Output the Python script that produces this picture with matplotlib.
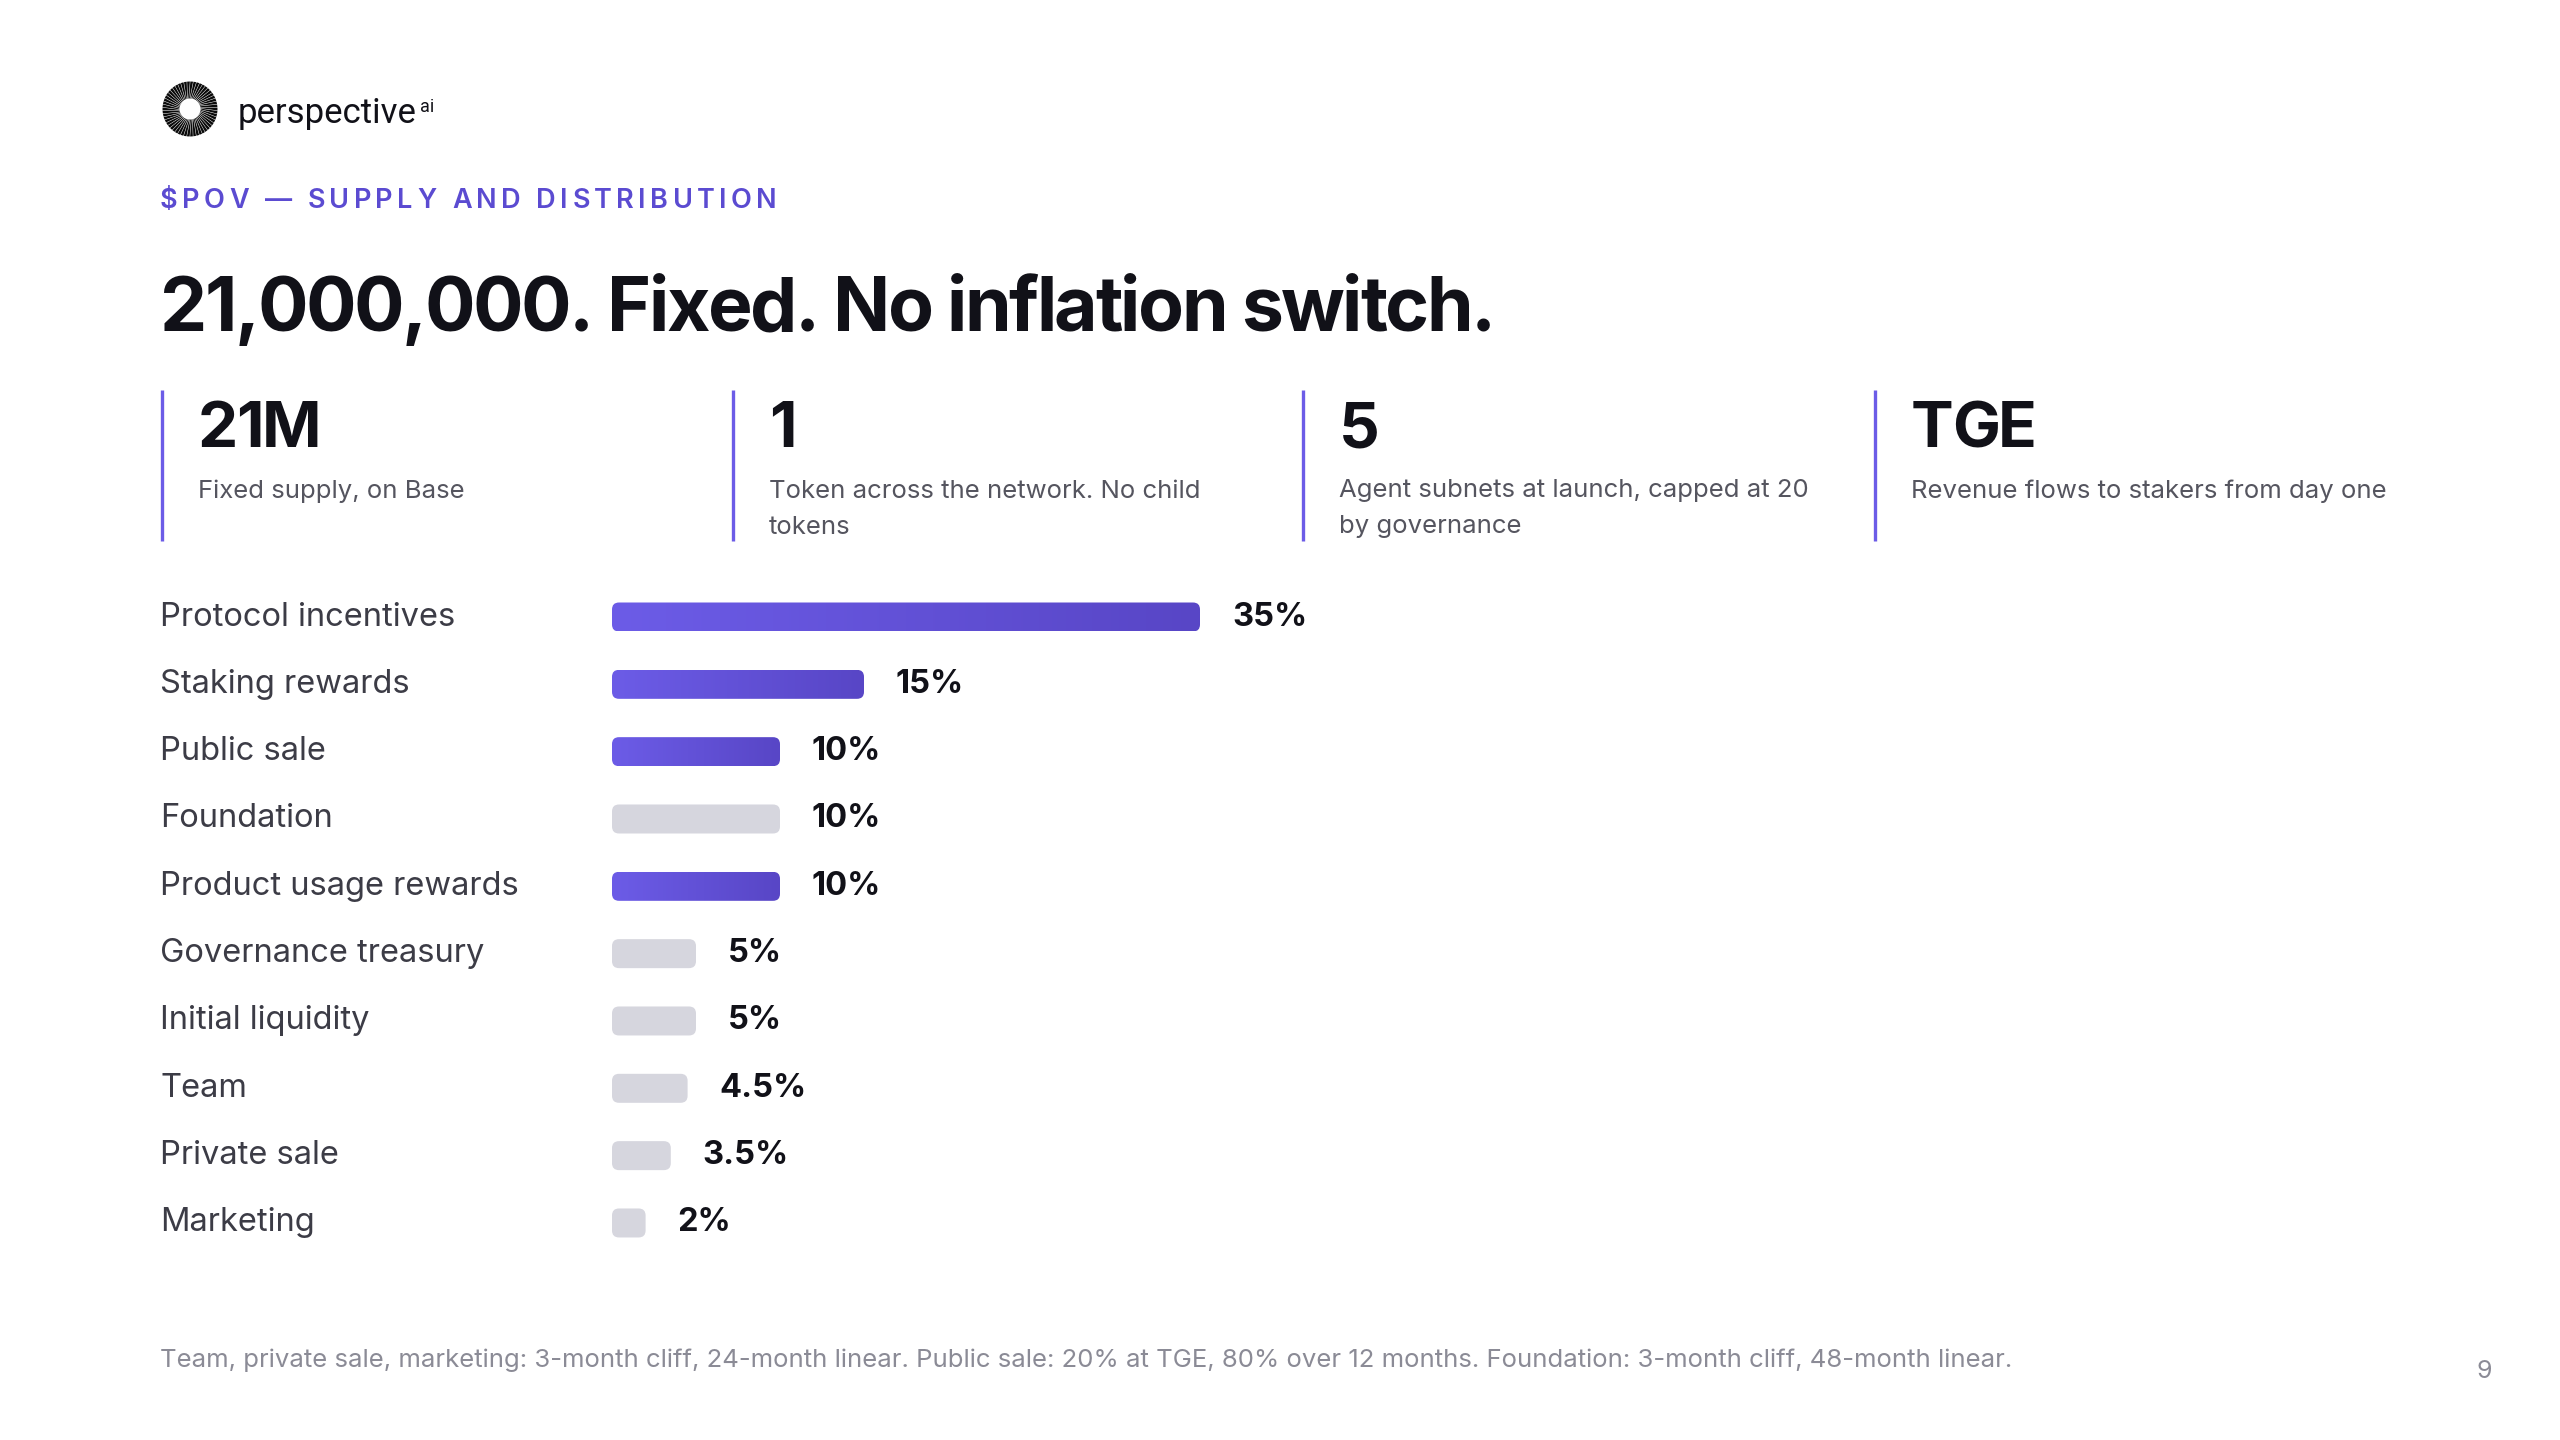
import numpy as np
import matplotlib as mpl
mpl.use('Agg')
import matplotlib.pyplot as plt
from matplotlib.patches import FancyBboxPatch, Polygon
from matplotlib.colors import LinearSegmentedColormap
from matplotlib import transforms

plt.rcParams['font.family'] = ['Inter', 'DejaVu Sans']

# ---- data ----
categories = ['Protocol incentives', 'Staking rewards', 'Public sale', 'Foundation',
              'Product usage rewards', 'Governance treasury', 'Initial liquidity',
              'Team', 'Private sale', 'Marketing']
shares = [35, 15, 10, 10, 10, 5, 5, 4.5, 3.5, 2]
share_labels = ['35%', '15%', '10%', '10%', '10%', '5%', '5%', '4.5%', '3.5%', '2%']
highlight = [True, True, True, False, True, False, False, False, False, False]

stat_values = ['21M', '1', '5', 'TGE']
stat_notes = ['Fixed supply, on Base',
              'Token across the network. No child\ntokens',
              'Agent subnets at launch, capped at 20\nby governance',
              'Revenue flows to stakers from day one']

kicker = '$POV \u2014 SUPPLY AND DISTRIBUTION'
title = '21,000,000. Fixed. No inflation switch.'
footnote = ('Team, private sale, marketing: 3-month cliff, 24-month linear. '
            'Public sale: 20% at TGE, 80% over 12 months. Foundation: 3-month cliff, 48-month linear.')
page_no = '9'

# ---- colours ----
PURPLE = '#6C5CE7'
PURPLE_DK = '#5846C6'
KICKER = '#5B4BD1'
INK = '#111118'
GREY_TXT = '#55555F'
LABEL = '#3C3C46'
FOOT = '#8B8B96'
BAR_GREY = '#D6D6DE'

W, H = 2560, 1440
fig = plt.figure(figsize=(25.6, 14.4), dpi=100)
fig.patch.set_facecolor('white')
bg = fig.add_axes([0, 0, 1, 1])
bg.set_xlim(0, W)
bg.set_ylim(H, 0)
bg.axis('off')
renderer = fig.canvas.get_renderer()


def text_w(s, **kw):
    t = bg.text(0, 0, s, **kw)
    w = t.get_window_extent(renderer).width
    t.remove()
    return w


def tracked(x, y, s, width=None, track=0.0, **kw):
    # draw text char by char with extra spacing (px) between glyphs
    if width is not None:
        track = (width - text_w(s, **kw)) / (len(s) - 1)
    for k, ch in enumerate(s):
        if ch == ' ':
            continue
        off = text_w(s[:k + 1], **kw) - text_w(ch, **kw)
        bg.text(x + off + k * track, y, ch, **kw)
    return track


# logo: sunburst ring of wedge rays with a slight twist
cx, cy = 190, 109
r0, r1 = 10.5, 27.5
for a in np.linspace(0, 2 * np.pi, 54, endpoint=False):
    b = a + 0.12
    pts = [(cx + r0 * np.cos(a - 0.035), cy + r0 * np.sin(a - 0.035)),
           (cx + r1 * np.cos(b - 0.05), cy + r1 * np.sin(b - 0.05)),
           (cx + r1 * np.cos(b + 0.05), cy + r1 * np.sin(b + 0.05)),
           (cx + r0 * np.cos(a + 0.035), cy + r0 * np.sin(a + 0.035))]
    bg.add_patch(Polygon(pts, closed=True, fc='#0a0a0a', ec='none'))

t = bg.text(238, 123, 'perspective', fontsize=25, fontfamily='Roboto',
            color=INK, va='baseline', ha='left')
ext = t.get_window_extent(renderer)
bg.text(ext.x1 + 3, 112, 'ai', fontsize=13, fontfamily='Roboto',
        color=INK, va='baseline', ha='left')

# kicker with letter spacing
tracked(160, 201, kicker, width=617, fontsize=19.5, fontweight='semibold',
        color=KICKER, va='center', ha='left', parse_math=False)

# title (tight tracking)
title_size = 54
title_kw = dict(fontsize=title_size, fontweight='bold', color=INK, va='baseline', ha='left')
trk = tracked(160, 331, title, width=1336, **title_kw)
trk_em = trk / (title_size / 72 * 100)

# stat blocks
line_x = [162, 733, 1303, 1875]
for lx, val, note in zip(line_x, stat_values, stat_notes):
    bg.plot([lx, lx], [390, 541], color=PURPLE, lw=2.4, solid_capstyle='butt')
    tracked(lx + 36, 447, val, track=trk_em * 46 / 72 * 100, fontsize=46,
            fontweight='bold', color=INK, va='baseline', ha='left')
    for k, line in enumerate(note.split('\n')):
        bg.text(lx + 36, 491 + 36 * k, line, fontsize=18.5, color=GREY_TXT,
                va='center', ha='left')

# bar chart
px_per_pct = 16.8
row_px = 67.33
bar_left = 612
top_row_y = 617
n = len(categories)
ax_top = top_row_y - row_px / 2
ax = fig.add_axes([bar_left / W, 1 - (ax_top + n * row_px) / H,
                   40 * px_per_pct / W, n * row_px / H])
ax.axis('off')

cmap = LinearSegmentedColormap.from_list('pv', [PURPLE, PURPLE_DK])
grad = np.linspace(0, 1, 256).reshape(1, -1)
bh = 29 / row_px
aspect = px_per_pct / row_px
rad = 7 / px_per_pct
for i, (v, hl) in enumerate(zip(shares, highlight)):
    patch = FancyBboxPatch((0, i - bh / 2), v, bh,
                           boxstyle=f'round,pad=0,rounding_size={rad}',
                           mutation_aspect=aspect,
                           fc='none' if hl else BAR_GREY, ec='none')
    ax.add_patch(patch)
    if hl:
        im = ax.imshow(grad, extent=(0, v, i + bh / 2, i - bh / 2), cmap=cmap,
                       aspect='auto', interpolation='bilinear')
        im.set_clip_path(patch)
    ax.annotate(share_labels[i], (v, i), xytext=(23, 0), textcoords='offset points',
                va='center', ha='left', fontsize=23.5, fontweight='bold', color=INK)

ax.set_xlim(0, 40)
ax.set_ylim(n - 0.5, -0.5)

lab_tr = transforms.blended_transform_factory(bg.transData, ax.transData)
for i, cat in enumerate(categories):
    ax.text(160, i, cat, transform=lab_tr, fontsize=23.5, color=LABEL,
            va='center', ha='left')

# footnote and page number
bg.text(160, 1360, footnote, fontsize=18.5, color=FOOT, va='center', ha='left')
bg.text(2484, 1371, page_no, fontsize=18, color=FOOT, va='center', ha='center')

fig.savefig('out.png', dpi=100, facecolor='white')
